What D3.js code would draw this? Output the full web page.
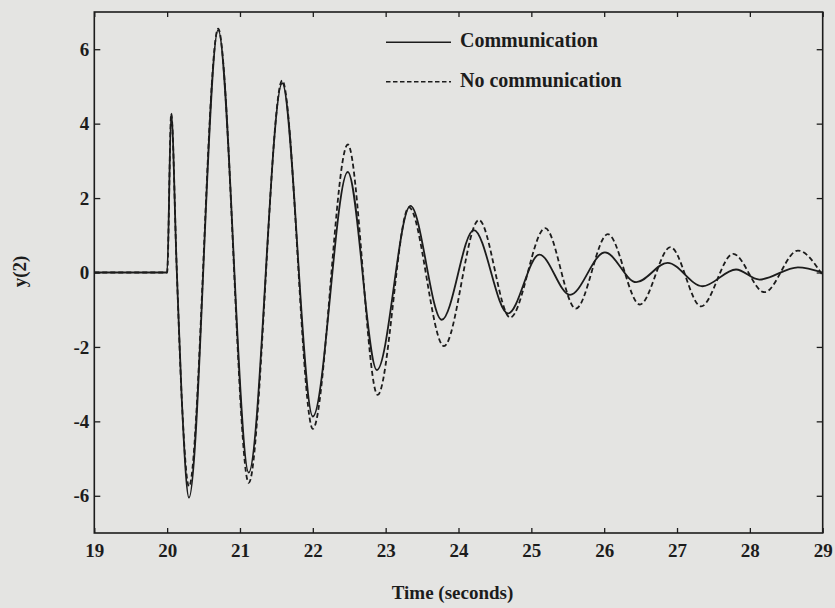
<!DOCTYPE html>
<html>
<head>
<meta charset="utf-8">
<script src="https://cdn.jsdelivr.net/npm/d3@7"></script>
<style>
  body { margin: 0; background: #e4e4e2; }
  svg { display: block; }
  text { font-family: "Liberation Serif", "Times New Roman", serif; font-weight: bold; fill: #1c1c1c; }
</style>
</head>
<body>
<div id="chart"></div>
<script>
// values (extrema of each oscillation)
var tComm = [19, 20.0, 20.056, 20.13, 20.20, 20.30, 20.70, 21.12, 21.58, 22.00, 22.48, 22.88, 23.34, 23.77, 24.21, 24.68, 25.11, 25.53, 26.01, 26.44, 26.87, 27.35, 27.81, 28.13, 28.66, 29];
var yComm = [0, 0, 4.27, 0.19, -3.37, -6.05, 6.52, -5.38, 5.09, -3.87, 2.70, -2.62, 1.79, -1.27, 1.14, -1.10, 0.48, -0.60, 0.54, -0.26, 0.26, -0.37, 0.08, -0.19, 0.14, 0.0];

var tNoComm = [19, 20.0, 20.056, 20.13, 20.20, 20.30, 20.70, 21.12, 21.58, 22.00, 22.48, 22.89, 23.32, 23.80, 24.28, 24.71, 25.19, 25.61, 26.05, 26.49, 26.91, 27.33, 27.77, 28.20, 28.66, 29];
var yNoComm = [0, 0, 4.27, 0.19, -3.37, -5.75, 6.55, -5.65, 5.16, -4.2, 3.44, -3.29, 1.75, -1.98, 1.41, -1.21, 1.19, -0.97, 1.03, -0.86, 0.68, -0.91, 0.50, -0.53, 0.59, -0.08];

var xTicks = [19, 20, 21, 22, 23, 24, 25, 26, 27, 28, 29];
var yTicks = [-6, -4, -2, 0, 2, 4, 6];
var seriesNames = ["Communication", "No communication"];

var width = 835, height = 608;
var plotL = 94.3, plotR = 822.7, plotT = 12, plotB = 533;
var ink = "#1c1c1c";

var svg = d3.select("#chart").append("svg")
    .attr("width", width)
    .attr("height", height);

var x = d3.scaleLinear().domain([19, 29]).range([plotL, plotR]);
var y = d3.scaleLinear().domain([-7, 7]).range([plotB, plotT]);

// plain hyphen for negatives, like the original
var fmt = function(d) { return String(d); };

function styleAxis(g) {
    g.select(".domain").remove();
    g.selectAll(".tick line").attr("stroke", ink).attr("stroke-width", 1.3);
    g.selectAll(".tick text").style("font-size", "19px").attr("fill", ink);
}

// bottom and left axes with labels, ticks pointing inward
svg.append("g")
    .attr("transform", "translate(0," + plotB + ")")
    .call(d3.axisBottom(x).tickValues(xTicks).tickSize(-5).tickPadding(11).tickFormat(fmt))
    .call(styleAxis);

svg.append("g")
    .attr("transform", "translate(" + plotL + ",0)")
    .call(d3.axisLeft(y).tickValues(yTicks).tickSize(-6).tickPadding(5).tickFormat(fmt))
    .call(styleAxis);

// mirrored ticks on top and right
svg.append("g")
    .attr("transform", "translate(0," + plotT + ")")
    .call(d3.axisTop(x).tickValues(xTicks).tickSize(-5).tickFormat(""))
    .call(styleAxis);

svg.append("g")
    .attr("transform", "translate(" + plotR + ",0)")
    .call(d3.axisRight(y).tickValues(yTicks).tickSize(-6).tickFormat(""))
    .call(styleAxis);

svg.append("rect")
    .attr("x", plotL)
    .attr("y", plotT)
    .attr("width", plotR - plotL)
    .attr("height", plotB - plotT)
    .attr("fill", "none")
    .attr("stroke", ink)
    .attr("stroke-width", 1.6);

var line = d3.line()
    .x(function(d) { return x(d[0]); })
    .y(function(d) { return y(d[1]); })
    .curve(d3.curveMonotoneX);

var commData = d3.zip(tComm, yComm);
var noCommData = d3.zip(tNoComm, yNoComm);

svg.append("path")
    .datum(noCommData)
    .attr("d", line)
    .attr("fill", "none")
    .attr("stroke", ink)
    .attr("stroke-width", 1.8)
    .attr("stroke-dasharray", "5,3");

svg.append("path")
    .datum(commData)
    .attr("d", line)
    .attr("fill", "none")
    .attr("stroke", ink)
    .attr("stroke-width", 1.8);

// legend
var legend = svg.append("g");
seriesNames.forEach(function(name, i) {
    var ly = 42.3 + i * 39.4;
    legend.append("line")
        .attr("x1", 386).attr("x2", 451)
        .attr("y1", ly).attr("y2", ly)
        .attr("stroke", ink)
        .attr("stroke-width", 1.6)
        .attr("stroke-dasharray", i == 1 ? "4.5,2.5" : null);
    legend.append("text")
        .attr("x", 460)
        .attr("y", ly + 5)
        .style("font-size", "20px")
        .text(name);
});

// axis titles
svg.append("text")
    .attr("x", 452.5)
    .attr("y", 599)
    .attr("text-anchor", "middle")
    .style("font-size", "19px")
    .text("Time (seconds)");

svg.append("text")
    .attr("transform", "translate(26,271.5) rotate(-90)")
    .attr("text-anchor", "middle")
    .style("font-size", "19px")
    .text("y(2)");
</script>
</body>
</html>
